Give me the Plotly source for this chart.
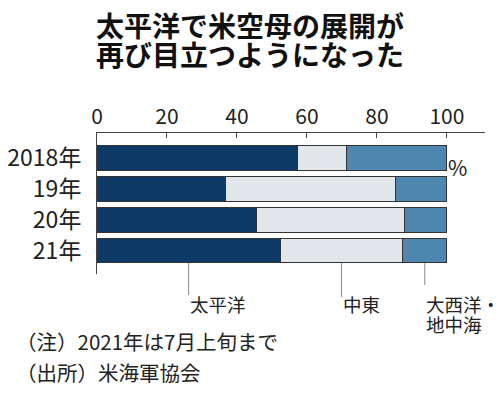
import plotly.graph_objects as go

years = ["2018年", "19年", "20年", "21年"]
pacific = [57.4, 36.7, 45.7, 52.4]
mideast = [13.8, 48.5, 42.2, 35.0]
atlantic = [28.8, 14.8, 12.1, 12.6]
series_names = ["太平洋", "中東", "大西洋・地中海"]
x_ticks = [0, 20, 40, 60, 80, 100]

FONT = "Noto Sans CJK JP"
colors = ["#0d3a66", "#e3e6eb", "#4f87b0"]
TXT = "#222222"

# plot area in pixels
L, R, T, B = 97, 485, 133, 274
W, H = 500, 395
Y_RANGE = [3.758, -0.806]


def px(x):
    return (x - L) / (R - L)


def py(y):
    return (B - y) / (B - T)


fig = go.Figure()
for name, vals, c in zip(series_names, [pacific, mideast, atlantic], colors):
    fig.add_trace(go.Bar(
        y=years, x=vals, orientation="h", name=name,
        marker=dict(color=c, line=dict(color="#333333", width=1)),
        width=0.8,
    ))

fig.update_layout(
    barmode="stack",
    width=W, height=H,
    margin=dict(l=L, r=W - R, t=T, b=H - B, autoexpand=False),
    paper_bgcolor="white", plot_bgcolor="white",
    showlegend=False,
    font=dict(family=FONT, color=TXT),
    xaxis=dict(
        side="top", range=[0, 110.9], tickvals=x_ticks,
        ticks="inside", ticklen=5, tickcolor="#444444",
        showline=True, linecolor="#444444", linewidth=1,
        showgrid=False, zeroline=False, automargin=False,
        tickfont=dict(size=21, family=FONT, color=TXT),
    ),
    yaxis=dict(
        categoryorder="array", categoryarray=years,
        range=Y_RANGE,
        showline=True, linecolor="#444444", linewidth=1,
        showgrid=False, zeroline=False, ticks="", automargin=False,
        ticklabelstandoff=10,
        tickfont=dict(size=23, family=FONT, color=TXT),
    ),
)

# leader lines from bottom of last bar (segment midpoints)
last = len(years) - 1
bar_bottom = (Y_RANGE[0] - (last + 0.4)) / (Y_RANGE[0] - Y_RANGE[1])
mids = [
    pacific[last] / 2,
    pacific[last] + mideast[last] / 2,
    pacific[last] + mideast[last] + atlantic[last] / 2,
]
line_ends = [295, 297, 285]
for m, e in zip(mids, line_ends):
    fig.add_shape(type="line", xref="x", yref="paper",
                  x0=m, x1=m, y0=bar_bottom, y1=py(e),
                  line=dict(color="#888888", width=1))

labels = [("太平洋", 0, 304), ("中東", 1, 304), ("大西洋・", 2, 304), ("地中海", 2, 324)]
for text, i, yy in labels:
    fig.add_annotation(x=mids[i], y=py(yy), xref="x", yref="paper",
                       text=text, showarrow=False, xanchor="left", yanchor="middle",
                       xshift=-1,
                       font=dict(size=18.5, family=FONT, color=TXT))

# percent sign
fig.add_annotation(x=px(469), y=py(150), xref="paper", yref="paper", text="%",
                   showarrow=False, font=dict(size=21, family=FONT, color=TXT))

# notes
fig.add_annotation(x=px(14), y=py(341), xref="paper", yref="paper",
                   text="（注）2021年は7月上旬まで", showarrow=False,
                   xanchor="left", yanchor="middle",
                   font=dict(size=20.5, family=FONT, color=TXT))
fig.add_annotation(x=px(14), y=py(372), xref="paper", yref="paper",
                   text="（出所）米海軍協会", showarrow=False,
                   xanchor="left", yanchor="middle",
                   font=dict(size=20.5, family=FONT, color=TXT))

# title (two lines)
fig.add_annotation(x=px(250), y=py(25), xref="paper", yref="paper",
                   text="<b>太平洋で米空母の展開が</b>", showarrow=False,
                   xanchor="center", yanchor="middle",
                   font=dict(size=28, family=FONT, color="#111111"))
fig.add_annotation(x=px(250), y=py(54), xref="paper", yref="paper",
                   text="<b>再び目立つようになった</b>", showarrow=False,
                   xanchor="center", yanchor="middle",
                   font=dict(size=28, family=FONT, color="#111111"))

fig.write_html("out.html", config={"displayModeBar": False},
               post_script="document.body.style.margin='0';")
